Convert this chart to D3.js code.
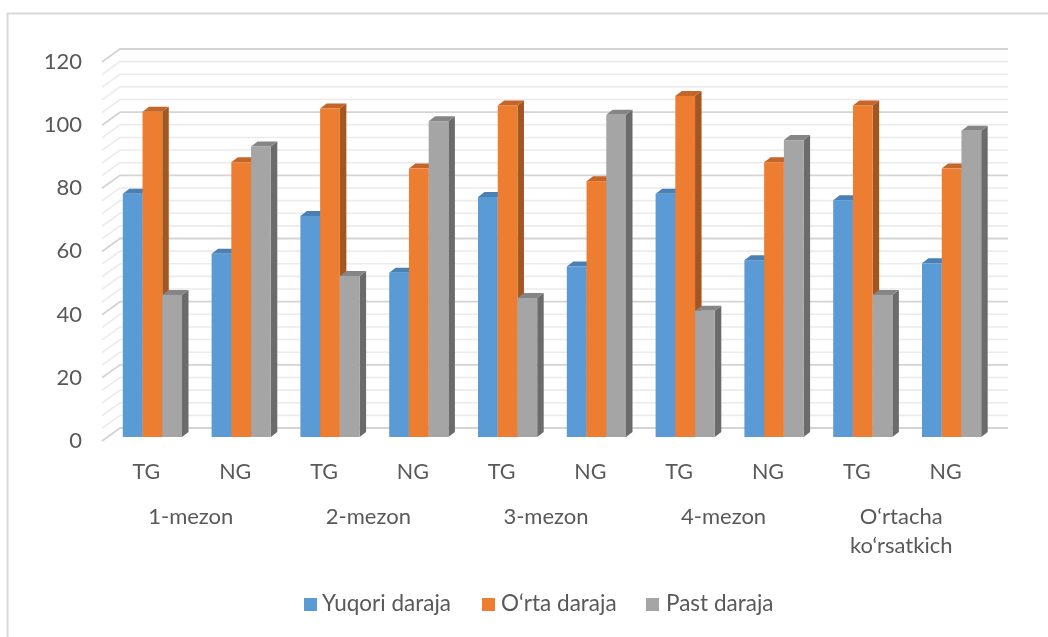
<!DOCTYPE html>
<html><head><meta charset="utf-8">
<script src="https://cdn.jsdelivr.net/npm/d3@7"></script>
<style>html,body{margin:0;padding:0;background:#fff}svg{display:block;filter:blur(.5px)}text{font-family:Lato,sans-serif;fill:#595959}</style>
</head><body><svg id="c" width="1048" height="637"></svg>
<script>
const groups=["1-mezon","2-mezon","3-mezon","4-mezon","O‘rtacha ko‘rsatkich"];
const subcats=["TG","NG","TG","NG","TG","NG","TG","NG","TG","NG"];
const seriesNames=["Yuqori daraja","O‘rta daraja","Past daraja"];
const yuqori=[77,58,70,52,76,54,77,56,75,55];
const orta=[103,87,104,85,105,81,108,87,105,85];
const past=[45,92,51,100,44,102,40,94,45,97];
const yTicks=[0,20,40,60,80,100,120];
const minorTicks=[4,8,12,16,24,28,32,36,44,48,52,56,64,68,72,76,84,88,92,96,104,108,112,116];
const colors=["#5B9BD5","#ED7D31","#A5A5A5"];
const sideColors=["#3E6D97","#A3561F","#6B6B6B"];
const topColors=["#4A80B2","#C4652A","#858585"];

const svg=d3.select("#c");
const values=[yuqori,orta,past];
svg.append("path").attr("d","M7.5,637V13.5H1048").attr("fill","none").attr("stroke","#d9d9d9").attr("stroke-width",2);

const idx=d3.range(subcats.length);
const xAxisBand=d3.scaleBand().domain(idx).range([102,990]);
const xBar=d3.scaleBand().domain(idx).range([108,996]);
const xInner=d3.scaleBand().domain([0,1,2]).range([0,59.2]);
const yBar=d3.scaleLinear().domain([0,120]).range([437,58]);
const yBack=d3.scaleLinear().domain([0,120]).range([428,49]);
const yFront=d3.scaleLinear().domain([0,120]).range([441,62]);
const dx=6.5,dy=5;
const wallL=120,wallR=1008,frontL=102;

const grid=svg.append("g").attr("fill","none");
minorTicks.concat(yTicks).forEach(t=>{
  const major=yTicks.includes(t);
  grid.append("path")
   .attr("d",`M${frontL},${yFront(t)}L${wallL},${yBack(t)}H${wallR}`)
   .attr("stroke",major?"#d4d4d4":"#ebebeb").attr("stroke-width",major?1.8:1.6);
});

const barsG=svg.append("g");
idx.forEach(i=>{
  const gx=xBar(i)+(xBar.bandwidth()-59.2)/2;
  values.forEach((vals,s)=>{
    const x0=gx+xInner(s), x1=x0+xInner.bandwidth(), y0=yBar(0), y1=yBar(vals[i]);
    barsG.append("path").attr("fill",sideColors[s])
      .attr("d",`M${x1},${y1}L${x1+dx},${y1-dy}V${y0-dy}L${x1},${y0}Z`);
    barsG.append("path").attr("fill",topColors[s])
      .attr("d",`M${x0},${y1}L${x0+dx},${y1-dy}H${x1+dx}L${x1},${y1}Z`);
    barsG.append("rect").attr("fill",colors[s]).attr("x",x0).attr("y",y1).attr("width",x1-x0).attr("height",y0-y1);
  });
});

svg.append("g").selectAll("text").data(yTicks).join("text")
  .attr("x",82).attr("y",d=>yFront(d)-1).attr("dy","0.36em").attr("text-anchor","end")
  .style("font-size","22px").text(d=>d);

svg.append("g").selectAll("text").data(idx).join("text")
  .attr("x",i=>xAxisBand(i)+xAxisBand.bandwidth()/2).attr("y",479).attr("text-anchor","middle")
  .style("font-size","21.5px").text(i=>subcats[i]);
const groupLines=[["1-mezon"],["2-mezon"],["3-mezon"],["4-mezon"],["O‘rtacha","ko‘rsatkich"]];
groupLines.forEach((ls,g)=>{
  const cx=xAxisBand(g*2+1);
  ls.forEach((l,k)=>svg.append("text").attr("x",cx).attr("y",524+k*29).attr("text-anchor","middle").style("font-size","22px").text(l));
});

const swatchX=[304,482,646], textX=[322,501,666];
seriesNames.forEach((n,s)=>{
  svg.append("rect").attr("x",swatchX[s]).attr("y",598).attr("width",13).attr("height",13).attr("fill",colors[s]);
  svg.append("text").attr("x",textX[s]).attr("y",611).style("font-size","22.5px").text(n);
});
</script></body></html>
